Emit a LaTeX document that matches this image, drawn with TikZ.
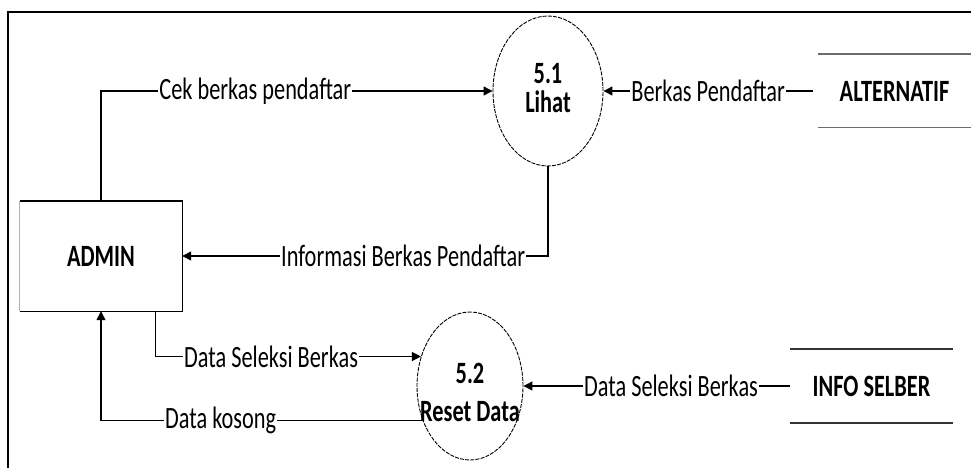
\documentclass[tikz,border=0pt]{standalone}
\usepackage{fontspec}
\setmainfont{Carlito}[FakeStretch=0.72]
\usetikzlibrary{arrows.meta,shapes.geometric}
\tikzset{
  frameline/.style={line width=1.4pt,black},
  entitybox/.style={minimum width=162pt,minimum height=110pt,inner sep=0pt,
    font=\fontsize{31}{32}\selectfont\bfseries},
  procbubble/.style={ellipse,draw,line width=0.9pt,dash pattern=on 4pt off 1.2pt,
    inner sep=0pt},
  bubbletext/.style={inner sep=0pt,align=center,font=\fontsize{31}{29}\selectfont\bfseries},
  storebox/.style={inner sep=0pt,font=\fontsize{31}{32}\selectfont\bfseries},
  storeline/.style={line width=1.6pt},
  flow/.style={line width=1.2pt,-{Triangle[length=9pt,width=9pt]}},
  lbl/.style={fill=white,inner xsep=1pt,inner ysep=0pt,
    font=\fontsize{31}{32}\selectfont}
}
\begin{document}
\begin{tikzpicture}[x=1pt,y=-1pt]
\useasboundingbox (0,0) rectangle (971,468);
\fill[white] (0,0) rectangle (971,468);

% outer frame (left and top edges)
\coordinate (ftr) at (971,12);
\coordinate (ftl) at (8,12);
\coordinate (fbl) at (8,468);
\draw[frameline] (ftr) -- (ftl) -- (fbl);

% external entity
\node[entitybox] (admin) at (101,256) {ADMIN};
\draw[line width=1.2pt,gray!60] (admin.south west) -- (admin.north west);
\draw[line width=1.4pt] (admin.north west) -- (admin.north east) -- (admin.south east) -- (admin.south west);

% processes
\node[procbubble,minimum width=110pt,minimum height=150pt] (p1) at (548,91) {};
\node[bubbletext] (p1t) at ([yshift=3pt]p1.center) {5.1\\Lihat};
\node[procbubble,minimum width=106pt,minimum height=148pt] (p2) at (470,386) {};
\node[bubbletext] (p2t) at ([yshift=-6pt]p2.center) {5.2\\[9pt]Reset Data};

% data stores
\node[storebox,minimum width=153pt,minimum height=73pt] (alt) at (894.5,91) {ALTERNATIF};
\draw[storeline,gray!85!black] (alt.north west) -- (alt.north east);
\draw[storeline,gray!85!black] (alt.south west) -- (alt.south east);
\node[storebox,minimum width=163pt,minimum height=74pt] (info) at (871.5,386) {INFO SELBER};
\draw[storeline,black!80] (info.north west) -- (info.north east);
\draw[storeline,black!80] (info.south west) -- (info.south east);

% flows
\draw[flow] (admin.north) |- node[lbl,pos=0.697]{Cek berkas pendaftar} (p1.west);
\draw[flow] ([xshift=-5pt]alt.west) -- node[lbl]{Berkas Pendaftar} (p1.east);
\draw[flow] (p1.south) |- node[lbl,pos=0.698]{Informasi Berkas Pendaftar} (admin.east);
\coordinate (dsl) at ([xshift=-27pt]admin.south east);
\draw[flow] (dsl) |- node[lbl,pos=0.718]{Data Seleksi Berkas} (p2.149);
\draw[flow] (p2.216) -| node[lbl,pos=0.314]{Data kosong} (admin.south);
\draw[flow] (info.west) -- node[lbl,pos=0.446]{Data Seleksi Berkas} (p2.east);
\end{tikzpicture}
\end{document}
